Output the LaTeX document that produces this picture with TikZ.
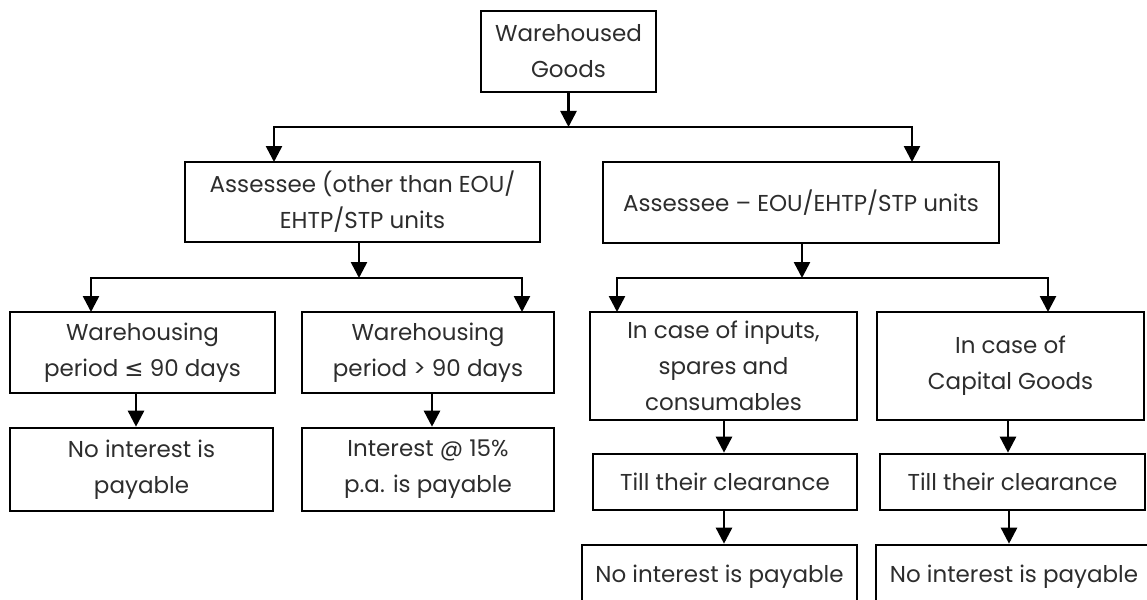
\documentclass[tikz,border=0pt]{standalone}
\usepackage{fontspec}
\setmainfont{Poppins}
\newfontfamily\dv{DejaVu Sans}
\usetikzlibrary{arrows.meta}
\definecolor{txt}{RGB}{45,45,45}
\begin{document}
\begin{tikzpicture}[x=1pt,y=-1pt,
  box/.style={draw=black,line width=2.6pt,fill=white,text=txt,align=center,inner sep=0pt,
    font=\fontsize{23}{36}\selectfont},
  arr/.style={line width=2.6pt,-{Triangle[length=16pt,width=16pt]}},
  ln/.style={line width=2.6pt}]
\useasboundingbox (0,0) rectangle (1147,599);
\clip (0,0) rectangle (1147,599);
% boxes
\node[box,minimum width=175pt,minimum height=81pt] (top) at (568.5,51.5) {Warehoused\\Goods};
\node[box,minimum width=355pt,minimum height=80pt] (a1) at (362.5,202) {Assessee (other than EOU/\\EHTP/STP units};
\node[box,minimum width=396pt,minimum height=81pt] (a2) at (801,202.5) {Assessee – EOU/EHTP/STP units};
\node[box,minimum width=265pt,minimum height=81pt] (b1) at (142.5,352.5) {Warehousing\\period {\dv ≤} 90 days};
\node[box,minimum width=252pt,minimum height=81pt] (b2) at (428,352.5) {Warehousing\\period > 90 days};
\node[box,minimum width=263pt,minimum height=83pt] (c1) at (141.5,469.5) {No interest is\\payable};
\node[box,minimum width=252pt,minimum height=83pt] (c2) at (428,469.5) {Interest @ 15\%\\p.a. is payable};
\node[box,minimum width=267pt,minimum height=108pt] (b3) at (723.5,366) {In case of inputs,\\spares and\\consumables};
\node[box,minimum width=267pt,minimum height=108pt] (b4) at (1010.5,366) {In case of\\Capital Goods};
\node[box,minimum width=264pt,minimum height=56pt] (t3) at (725,482) {Till their clearance};
\node[box,minimum width=265pt,minimum height=56pt] (t4) at (1012.5,482) {Till their clearance};
\node[box,minimum width=275pt,minimum height=64pt] (n3) at (719.5,577) {No interest is payable};
\node[box,minimum width=276pt,minimum height=64pt] (n4) at (1014,577) {No interest is payable};
% junctions
\coordinate (j0) at (568.5,127);
\coordinate (ta1) at (274,162);
\coordinate (ta2) at (912,162);
\coordinate (j1) at (359,278);
\coordinate (tb1) at (91,312);
\coordinate (tb2) at (522,312);
\coordinate (j2) at (802,278);
\coordinate (tb3) at (617,312);
\coordinate (tb4) at (1048,312);
% connectors
\draw[arr] (top.south) -- (j0);
\draw[arr] (j0) -| (ta1);
\draw[arr] (j0) -| (ta2);
\draw[arr] (a1.south -| j1) -- (j1);
\draw[arr] (j1) -| (tb1);
\draw[arr] (j1) -| (tb2);
\draw[arr] (a2.south -| j2) -- (j2);
\draw[arr] (j2) -| (tb3);
\draw[arr] (j2) -| (tb4);
\draw[arr] (b1.south -| 136,0) -- (c1.north -| 136,0);
\draw[arr] (b2.south -| 432,0) -- (c2.north -| 432,0);
\draw[arr] (b3.south -| 724,0) -- (t3.north -| 724,0);
\draw[arr] (b4.south -| 1008,0) -- (t4.north -| 1008,0);
\draw[arr] (t3.south -| 724,0) -- (n3.north -| 724,0);
\draw[arr] (t4.south -| 1009,0) -- (n4.north -| 1009,0);
\end{tikzpicture}
\end{document}
